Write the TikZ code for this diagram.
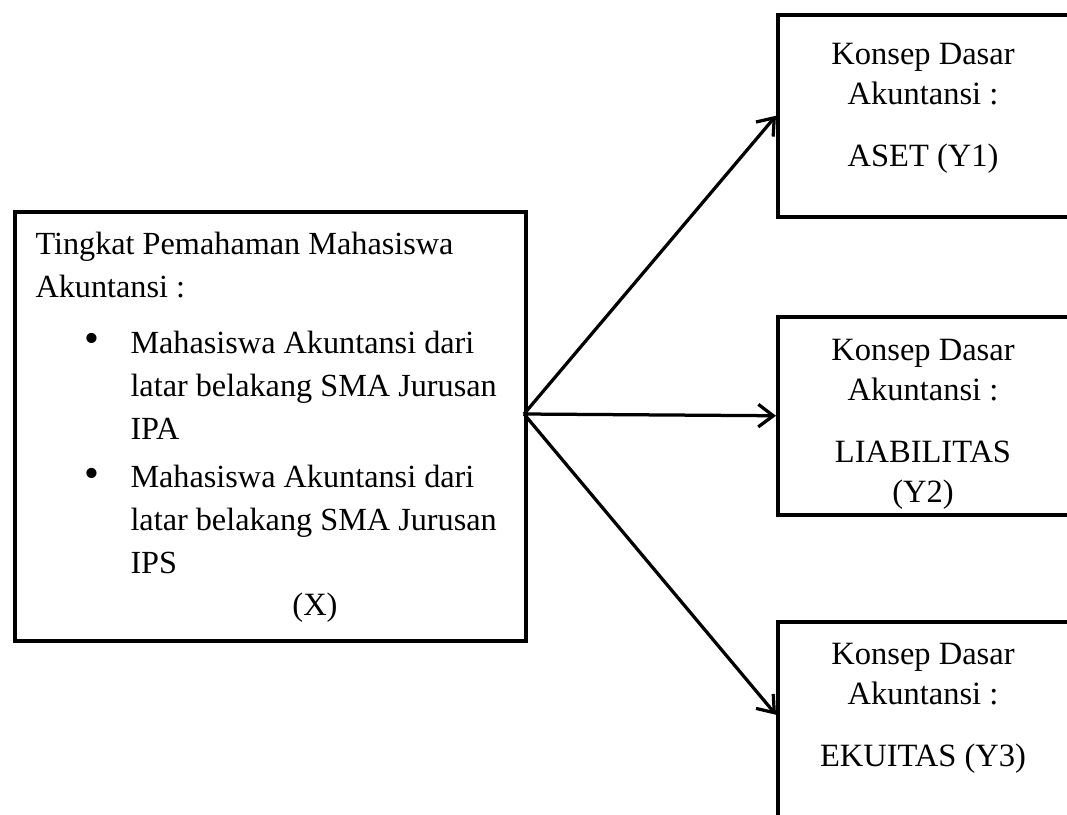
\documentclass[tikz,border=0pt]{standalone}
\usepackage{fontspec}
\setmainfont{Liberation Serif}
\usetikzlibrary{arrows.meta,positioning}

\tikzset{
  kotak/.style={draw, line width=1.4pt, anchor=north west, inner sep=0pt},
  teksx/.style={font=\fontsize{12.9}{17.2}\selectfont, inner sep=0pt, align=left, anchor=base west},
  teksy/.style={font=\fontsize{13}{16}\selectfont, inner sep=0pt, align=center, anchor=base},
  titik/.style={font=\fontsize{17}{17}\selectfont, inner sep=0pt, anchor=center},
  panah/.style={-{Straight Barb[length=6pt,width=9pt]}, line width=1.3pt}
}

\begin{document}
\begin{tikzpicture}[x=0.4pt, y=-0.4pt]
\useasboundingbox (0,0) rectangle (1067,814);
% Variabel X
\node[kotak, minimum width=204.4pt, minimum height=171.6pt] (xbox) at (13,210) {};
\node[teksx] (xjudul) at (35,297) {Tingkat Pemahaman Mahasiswa\\Akuntansi :};
\node[teksx] (ipa) at (130,439) {Mahasiswa Akuntansi dari\\latar belakang SMA Jurusan\\IPA};
\node[teksx] (ips) at (130,573) {Mahasiswa Akuntansi dari\\latar belakang SMA Jurusan\\IPS};
\node[titik] (b1) at (92,343) {\textbullet};
\node[titik] (b2) at (92,478) {\textbullet};
\node[teksy] (xlabel) at (315,615) {(X)};
% Variabel Y
\node[kotak, minimum width=117.6pt, minimum height=80.8pt] (y1) at (776,13) {};
\node[kotak, minimum width=117.6pt, minimum height=79.2pt] (y2) at (776,315) {};
\node[kotak, minimum width=117.6pt, minimum height=80pt] (y3) at (776,620) {};
\node[teksy] (y1teks) at (923,166) {Konsep Dasar\\Akuntansi :\\[8.8pt]ASET (Y1)};
\node[teksy] (y2teks) at (923,502) {Konsep Dasar\\Akuntansi :\\[8.8pt]LIABILITAS\\(Y2)};
\node[teksy] (y3teks) at (923,766) {Konsep Dasar\\Akuntansi :\\[8.8pt]EKUITAS (Y3)};
% Panah
\coordinate (cabang) at (524,414);
\draw[panah] (cabang) -- (y1.west);
\draw[panah] (cabang) -- (y2.west);
\draw[panah] (cabang) -- ([yshift=2.8pt]y3.west);
\end{tikzpicture}
\end{document}
